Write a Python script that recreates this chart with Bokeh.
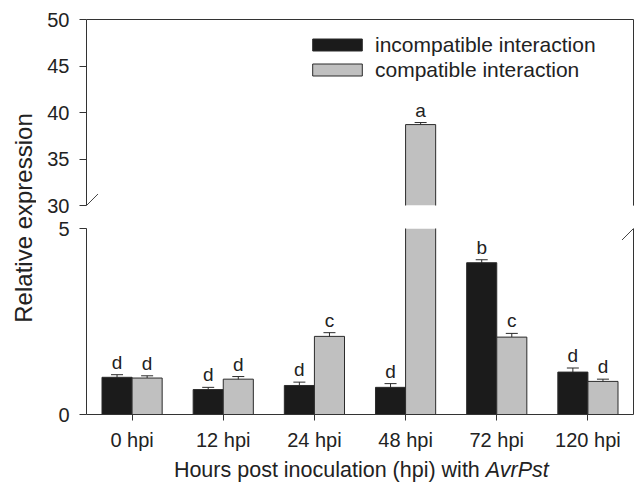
import math
from bokeh.plotting import figure
from bokeh.models import (ColumnDataSource, Range1d, LinearAxis, FixedTicker, Whisker,
                          TeeHead, Arrow)
from bokeh.layouts import row, column
from bokeh.transform import dodge
from bokeh.core.properties import value
from bokeh.embed import file_html
from bokeh.resources import INLINE

# ---------------- data ----------------
categories = ["0 hpi", "12 hpi", "24 hpi", "48 hpi", "72 hpi", "120 hpi"]
incompatible = [1.00, 0.67, 0.78, 0.73, 4.08, 1.14]
compatible = [0.98, 0.95, 2.10, 38.70, 2.08, 0.89]
err_incompatible = [0.07, 0.06, 0.09, 0.10, 0.08, 0.11]
err_compatible = [0.06, 0.07, 0.10, 0.22, 0.10, 0.06]
letters_incompatible = ["d", "d", "d", "d", "b", "d"]
letters_compatible = ["d", "d", "c", "a", "c", "d"]
series_names = ["incompatible interaction", "compatible interaction"]
lower_ticks = [0, 5]
upper_ticks = [30, 35, 40, 45, 50]
lower_limits = (0, 5)
upper_limits = (30, 50)
x_title = "Hours post inoculation (hpi) with"
x_title_italic = "AvrPst"
y_title = "Relative expression"

# ---------------- style ----------------
FONT = "Liberation Sans"
BLACK = "#1b1b1b"
GRAY = "#c0c0c0"
EDGE = "#2b2b2b"
AXIS = "#333333"
TXT = "#222222"
BAR_W = 0.33
OFF = 0.165
MAIN_W = 599
BL, BR = 50, 2

positions = list(range(len(categories)))
x_range = Range1d(-0.5, len(categories) - 0.5)


def style_axis(ax, size="20px", standoff=10, tick_out=7):
    ax.axis_line_color = AXIS
    ax.axis_line_width = 1
    ax.minor_tick_line_color = None
    ax.major_tick_in = 0
    ax.major_tick_line_color = AXIS
    ax.major_tick_out = tick_out
    ax.major_label_text_font = FONT
    ax.major_label_text_font_size = size
    ax.major_label_text_color = TXT
    ax.major_label_standoff = standoff


def plain_axis(p, side):
    # a bare frame line: no ticks, no labels
    ax = LinearAxis(ticker=FixedTicker(ticks=[]))
    ax.axis_line_color = AXIS
    ax.major_tick_line_color = None
    ax.minor_tick_line_color = None
    ax.major_tick_out = 0
    ax.major_tick_in = 0
    ax.major_label_standoff = 0
    p.add_layout(ax, side)


def bare_figure(**kw):
    p = figure(title=None, output_backend="svg", toolbar_location=None,
               x_axis_location=None, y_axis_location=None, **kw)
    p.outline_line_color = None
    p.xgrid.grid_line_color = None
    p.ygrid.grid_line_color = None
    return p


def make_panel(height, limits, top, bottom):
    lo, hi = limits
    p = bare_figure(width=MAIN_W, height=height, x_range=x_range, y_range=Range1d(lo, hi),
                    min_border_left=BL, min_border_right=BR,
                    min_border_top=top, min_border_bottom=bottom)
    for vals, errs, lets, off, color in (
            (incompatible, err_incompatible, letters_incompatible, -OFF, BLACK),
            (compatible, err_compatible, letters_compatible, OFF, GRAY)):
        # bars that reach into this panel
        vis = [i for i, v in enumerate(vals) if v > lo]
        bsrc = ColumnDataSource(dict(pos=[positions[i] for i in vis],
                                     top=[vals[i] for i in vis]))
        xs = dodge("pos", off)
        xl = dodge("pos", off - BAR_W / 2)
        xr = dodge("pos", off + BAR_W / 2)
        p.vbar(x=xs, top="top", bottom=0, width=BAR_W, source=bsrc,
               fill_color=color, line_color=None)
        p.segment(x0=xl, y0=0, x1=xl, y1="top", source=bsrc, line_color=EDGE, line_width=1)
        p.segment(x0=xr, y0=0, x1=xr, y1="top", source=bsrc, line_color=EDGE, line_width=1)
        ins = [i for i in vis if vals[i] <= hi]
        tsrc = ColumnDataSource(dict(pos=[positions[i] for i in ins],
                                     top=[vals[i] for i in ins]))
        p.segment(x0=xl, y0="top", x1=xr, y1="top", source=tsrc, line_color=EDGE, line_width=1)
        # error bars + significance letters
        esrc = ColumnDataSource(dict(pos=[positions[i] for i in ins],
                                     upper=[vals[i] + errs[i] for i in ins],
                                     lower=[vals[i] - errs[i] for i in ins],
                                     letter=[lets[i] for i in ins]))
        w = Whisker(source=esrc, base=xs, upper="upper", lower="lower",
                    line_color=EDGE, line_width=1,
                    upper_head=TeeHead(size=12, line_color=EDGE, line_width=1),
                    lower_head=TeeHead(size=12, line_color=EDGE, line_width=1))
        p.add_layout(w)
        p.text(x=xs, y="upper", text="letter", source=esrc, text_align="center",
               text_baseline="bottom", y_offset=-2, text_font=value(FONT),
               text_font_size="19px", text_color=TXT)
    return p


# ---------------- upper panel (30-50) ----------------
p1 = make_panel(216, upper_limits, 19, 11)
ax = LinearAxis(ticker=FixedTicker(ticks=upper_ticks))
style_axis(ax)
p1.add_layout(ax, "left")
plain_axis(p1, "right")
plain_axis(p1, "above")

# legend entries (hidden renderers, legend swatches only)
lsrc = ColumnDataSource(dict(pos=positions, inc=incompatible, comp=compatible))
p1.vbar(x=dodge("pos", -OFF), top="inc", width=BAR_W, source=lsrc, fill_color=BLACK,
        line_color=EDGE, legend_label=series_names[0], visible=False)
p1.vbar(x=dodge("pos", OFF), top="comp", width=BAR_W, source=lsrc, fill_color=GRAY,
        line_color=EDGE, legend_label=series_names[1], visible=False)
lg = p1.legend[0]
lg.location = (220, 123)
lg.border_line_color = None
lg.background_fill_alpha = 0
lg.padding = 0
lg.margin = 0
lg.spacing = 0
lg.label_height = 25
lg.glyph_height = 15
lg.glyph_width = 62
lg.label_standoff = 7
lg.label_text_font = FONT
lg.label_text_font_size = "21px"
lg.label_text_color = TXT

# ---------------- lower panel (0-5) ----------------
p2 = make_panel(242, lower_limits, 12, 44)
ax = LinearAxis(ticker=FixedTicker(ticks=lower_ticks))
style_axis(ax)
p2.add_layout(ax, "left")
plain_axis(p2, "right")
ax = LinearAxis(ticker=FixedTicker(ticks=positions),
                major_label_overrides={pos: cat for pos, cat in zip(positions, categories)})
style_axis(ax, standoff=8, tick_out=6)
p2.add_layout(ax, "below")

# axis break marks
dx = 0.126
for p, yb, dy in ((p1, upper_limits[0], 1.237), (p2, lower_limits[1], 0.309)):
    for xb in (x_range.start, x_range.end):
        p.add_layout(Arrow(end=None, start=None, x_start=xb - dx, y_start=yb - dy,
                           x_end=xb + dx, y_end=yb + dy, line_color="#444444", line_width=1))

# ---------------- x axis title strip ----------------
pt = bare_figure(width=MAIN_W, height=25, x_range=x_range, y_range=Range1d(0, 1),
                 min_border_left=BL, min_border_right=BR, min_border_top=0, min_border_bottom=0)
split = 3.88
pt.text(x=[split], y=[0.53], text=[x_title], x_offset=-6.0, text_align="right",
        text_baseline="middle", text_font=value(FONT), text_font_size="21.5px",
        text_color=TXT)
pt.text(x=[split], y=[0.53], text=[x_title_italic], text_align="left",
        text_baseline="middle", text_font=value(FONT), text_font_size="21.5px",
        text_font_style="italic", text_color=TXT)

# ---------------- y axis title strip ----------------
py = bare_figure(width=36, height=483, x_range=Range1d(0, 1), y_range=Range1d(0, 1),
                 min_border=0)
py.text(x=[0.639], y=[0.5497], text=[y_title], angle=math.pi / 2, text_align="center",
        text_baseline="middle", text_font=value(FONT), text_font_size="24px", text_color=TXT)

layout = row(py, column(p1, p2, pt, spacing=0), spacing=0)
open("out.html", "w").write(file_html(layout, INLINE))
